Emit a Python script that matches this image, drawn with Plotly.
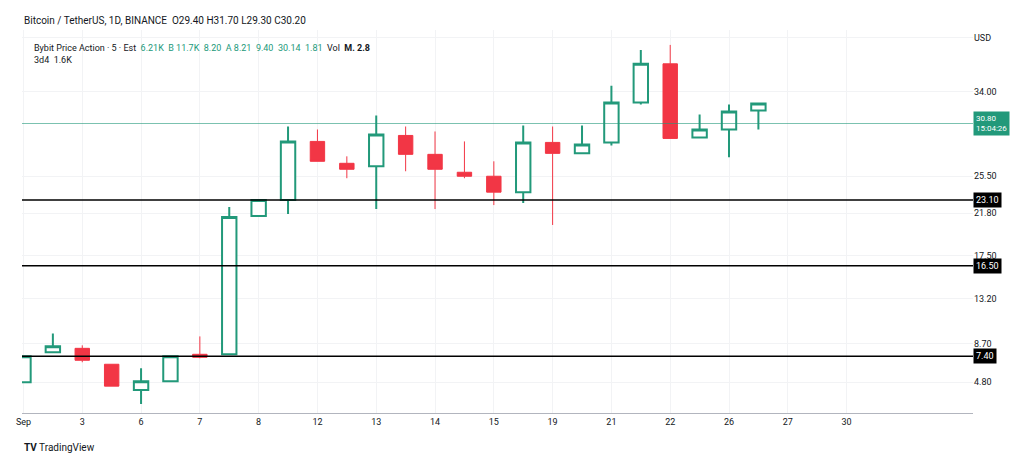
import plotly.graph_objects as go

# candle values (price units), index = trading session
idx = list(range(26))
opens = [4.8, 7.8, 8.2, 6.6, 4.0, 4.9, 7.6, 7.6, 21.5, 23.1, 29.0, 26.8, 26.5, 29.6, 27.7, 25.9, 25.5, 23.9, 28.9, 27.8, 28.9, 32.9, 36.8, 29.4, 30.2, 32.1]
closes = [7.4, 8.4, 7.0, 4.4, 4.9, 7.4, 7.3, 21.4, 23.1, 29.0, 27.0, 26.2, 29.7, 27.7, 26.2, 25.5, 23.9, 28.9, 27.8, 28.7, 32.9, 36.8, 29.3, 30.2, 32.0, 32.8]
highs = [7.4, 9.7, 8.5, 6.6, 6.2, 7.4, 9.4, 22.4, 23.1, 30.5, 30.2, 27.5, 31.6, 30.5, 30.0, 29.0, 27.0, 30.6, 30.5, 30.6, 34.6, 38.2, 38.7, 31.7, 32.7, 32.9]
lows = [4.8, 7.8, 6.8, 4.4, 2.6, 4.9, 7.2, 7.6, 21.4, 21.7, 27.0, 25.3, 22.2, 26.0, 22.2, 25.3, 22.6, 22.8, 20.6, 27.7, 28.6, 32.7, 29.3, 29.3, 27.4, 30.2]

tick_pos = [0, 2, 4, 6, 8, 10, 12, 14, 16, 18, 20, 22, 24, 26, 28]
tick_txt = ["Sep", "3", "6", "7", "8", "12", "13", "14", "15", "19", "21", "22", "26", "27", "30"]

axis_vals = [39.4, 34.0, 25.5, 21.8, 17.5, 13.2, 8.7, 4.8]
axis_txt = ["USD", "34.00", "25.50", "21.80", "17.50", "13.20", "8.70", "4.80"]

level_prices = [23.1, 16.5, 7.4]
level_txt = ["23.10", "16.50", "7.40"]
last_price = 30.8

GREEN = "#22997a"
RED = "#f23645"

fig = go.Figure(go.Candlestick(
    x=idx, open=opens, high=highs, low=lows, close=closes,
    increasing=dict(line=dict(color=GREEN, width=2), fillcolor="white"),
    decreasing=dict(line=dict(color=RED, width=1), fillcolor=RED),
    whiskerwidth=0, showlegend=False,
))

for p in level_prices:
    fig.add_hline(y=p, line=dict(color="black", width=1.5))
fig.add_hline(y=last_price, line=dict(color=GREEN, width=0.6))

for p, t in zip(level_prices, level_txt):
    fig.add_annotation(x=1.0, xref="paper", y=p, yref="y", text=t, showarrow=False,
                       xanchor="left", bgcolor="black", font=dict(color="white", size=9),
                       borderpad=2)
fig.add_annotation(x=1.0, xref="paper", y=last_price, yref="y", text="30.80<br>15:04:26",
                   showarrow=False, xanchor="left", bgcolor=GREEN,
                   font=dict(color="white", size=8), borderpad=2, align="left")

fig.add_annotation(x=0, y=1.026, xref="paper", yref="paper",
                   text="Bitcoin / TetherUS, 1D, BINANCE  O29.40 H31.70 L29.30 C30.20",
                   showarrow=False, xanchor="left", yanchor="middle", font=dict(size=10, color="#131722"))
fig.add_annotation(x=0.01, y=0.97, xref="paper", yref="paper",
                   text="Bybit Price Action · 5 · Est  <span style='color:#22997a'>6.21K  B 11.7K  8.20  A 8.21  9.40  30.14  1.81</span>  Vol  <b>M. 2.8</b><br>3d4  1.6K",
                   showarrow=False, xanchor="left", yanchor="top", align="left",
                   font=dict(size=9, color="#131722"))
fig.add_annotation(x=0, y=-0.09, xref="paper", yref="paper", text="<b>TV</b> TradingView",
                   showarrow=False, xanchor="left", yanchor="middle", font=dict(size=10, color="#131722"))

fig.update_layout(
    width=1024, height=458, margin=dict(l=8, r=59, t=22, b=53),
    paper_bgcolor="white", plot_bgcolor="white",
    font=dict(family="Roboto, sans-serif", size=9, color="#131722"),
    xaxis=dict(range=[-0.05, 32.3], rangeslider=dict(visible=False), tickmode="array",
               tickvals=tick_pos, ticktext=tick_txt, showgrid=True, gridcolor="#f2f3f5",
               showline=True, linecolor="#b2b5be", ticks="", zeroline=False),
    yaxis=dict(range=[1.7, 40.2], side="right", tickmode="array", tickvals=axis_vals,
               ticktext=axis_txt, showgrid=True, gridcolor="#f2f3f5", zeroline=False,
               ticklabelposition="outside", ticks=""),
)

fig.write_html("out.html")
